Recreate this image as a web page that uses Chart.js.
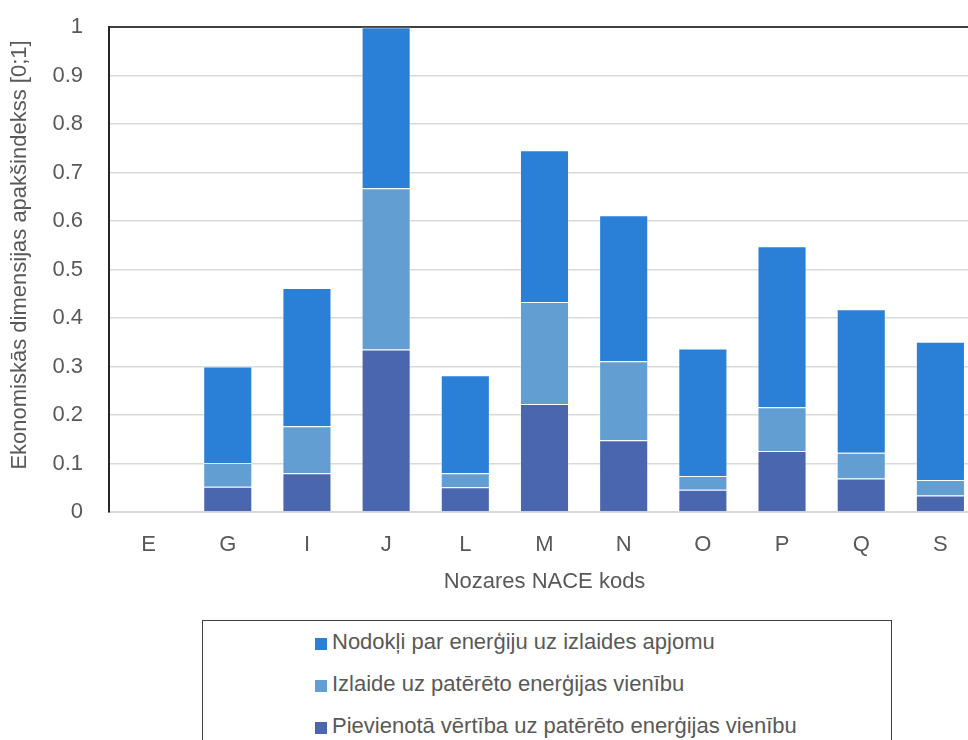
<!DOCTYPE html>
<html>
<head>
<meta charset="utf-8">
<script src="https://cdn.jsdelivr.net/npm/chart.js@4/dist/chart.umd.min.js"></script>
<style>
    body { margin: 0; overflow: hidden; background: #fff; font-family: "Liberation Sans", Arial, sans-serif; }
    #wrap { position: relative; width: 990px; height: 740px; }
    #chartBox { position: absolute; left: 0; top: -12px; width: 990px; height: 622px; }
    #legendBox {
        position: absolute; left: 202px; top: 620px; width: 690px; height: 160px;
        border: 1.5px solid #404040; box-sizing: border-box; padding: 0 0 0 112px;
    }
    .legend-item { height: 42px; line-height: 42px; font-size: 22px; color: #595959; white-space: nowrap; }
    .legend-item span.swatch { display: inline-block; width: 12px; height: 12px; margin-right: 5px; vertical-align: -1px; }
</style>
</head>
<body>
<div id="wrap">
    <div id="chartBox"><canvas id="indexChart" width="990" height="622"></canvas></div>
    <div id="legendBox"></div>
</div>
<script>
// NACE sector codes on the x axis
const sectors = ['E', 'G', 'I', 'J', 'L', 'M', 'N', 'O', 'P', 'Q', 'S'];

// Stacked components (bottom to top)
const valueAddedPerEnergy = [0, 0.052, 0.080, 0.335, 0.051, 0.223, 0.148, 0.046, 0.126, 0.069, 0.034];
const outputPerEnergy     = [0, 0.049, 0.097, 0.333, 0.029, 0.210, 0.163, 0.028, 0.090, 0.053, 0.032];
const energyTaxPerOutput  = [0, 0.199, 0.285, 0.332, 0.202, 0.313, 0.301, 0.263, 0.332, 0.296, 0.285];

// Series names and colours
const seriesNames = [
    'Pievienotā vērtība uz patērēto enerģijas vienību',
    'Izlaide uz patērēto enerģijas vienību',
    'Nodokļi par enerģiju uz izlaides apjomu'
];
const seriesColors = ['#4A66AE', '#629ED2', '#2A7FD7'];

// Axis texts and ticks
const yAxisTitle = 'Ekonomiskās dimensijas apakšindekss [0;1]';
const xAxisTitle = 'Nozares NACE kods';
const yMin = 0;
const yMax = 1;
const yStep = 0.1;

const FONT = '"Liberation Sans", Arial, sans-serif';
const FONT_SIZE = 22;
const TEXT_COLOR = '#595959';

// **Draw the rotated y title at the place used in the original**
const yTitlePlugin = {
    id: 'yTitle',
    afterDraw(chart) {
        const ctx = chart.ctx;
        ctx.save();
        ctx.translate(20, 267);
        ctx.rotate(-Math.PI / 2);
        ctx.font = FONT_SIZE + 'px ' + FONT;
        ctx.fillStyle = TEXT_COLOR;
        ctx.textAlign = 'center';
        ctx.textBaseline = 'middle';
        ctx.fillText(yAxisTitle, 0, 0);
        ctx.restore();
    }
};

function buildLegend() {
    const box = document.getElementById('legendBox');
    // top series first, like the original
    for (let i = seriesNames.length - 1; i >= 0; i--) {
        const item = document.createElement('div');
        item.className = 'legend-item';
        const sw = document.createElement('span');
        sw.className = 'swatch';
        sw.style.background = seriesColors[i];
        item.appendChild(sw);
        item.appendChild(document.createTextNode(seriesNames[i]));
        box.appendChild(item);
    }
}

function createChart() {
    const ctx = document.getElementById('indexChart').getContext('2d');
    const seriesData = [valueAddedPerEnergy, outputPerEnergy, energyTaxPerOutput];

    new Chart(ctx, {
        type: 'bar',
        data: {
            labels: sectors,
            datasets: seriesNames.map((name, i) => ({
                label: name,
                data: seriesData[i],
                backgroundColor: seriesColors[i],
                borderColor: 'rgba(255,255,255,0.35)',
                borderWidth: 1,
                barPercentage: 0.62,
                categoryPercentage: 1
            }))
        },
        options: {
            responsive: false,
            animation: false,
            layout: { padding: { top: 14, right: 10, left: 0, bottom: 0 } },
            plugins: { legend: { display: false }, tooltip: { enabled: false } },
            scales: {
                x: {
                    stacked: true,
                    grid: { display: false, drawTicks: false },
                    border: { display: true, color: '#d9d9d9', width: 2 },
                    ticks: { color: TEXT_COLOR, font: { size: FONT_SIZE, family: FONT }, padding: 20 },
                    title: {
                        display: true, text: xAxisTitle, color: TEXT_COLOR,
                        font: { size: FONT_SIZE, family: FONT }, padding: { top: 0, bottom: 15 }
                    },
                    afterFit: scale => { scale.height = 98; }
                },
                y: {
                    stacked: true,
                    min: yMin,
                    max: yMax,
                    ticks: {
                        stepSize: yStep, color: TEXT_COLOR, padding: 26,
                        font: { size: FONT_SIZE, family: FONT },
                        callback: v => Math.round(v * 10) / 10
                    },
                    // top gridline doubles as the dark frame line
                    grid: {
                        drawTicks: false,
                        color: c => (c.tick && c.tick.value === yMax) ? '#404040' : '#d9d9d9',
                        lineWidth: c => (c.tick && c.tick.value === yMax) ? 2 : 1.5
                    },
                    border: { display: true, color: '#262626', width: 2 },
                    afterFit: scale => { scale.width = 109; }
                }
            }
        },
        plugins: [yTitlePlugin]
    });
}

document.addEventListener('DOMContentLoaded', function () {
    buildLegend();
    createChart();
});
</script>
</body>
</html>
